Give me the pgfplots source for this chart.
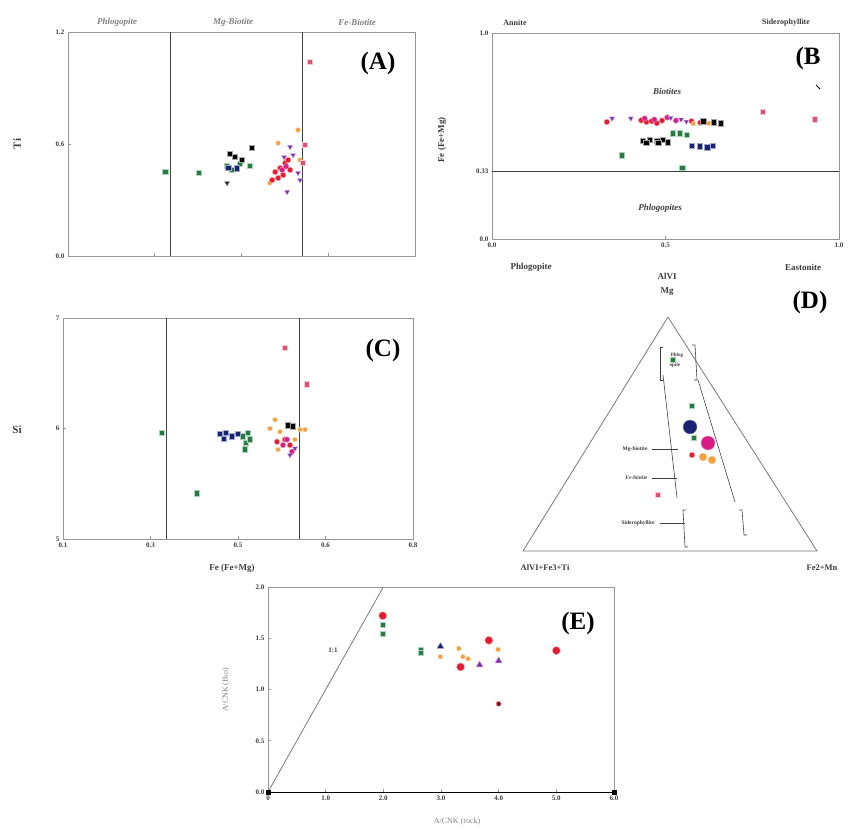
\documentclass[border=0pt]{standalone}
\usepackage{pgfplots}
\pgfplotsset{compat=1.18}
\usepackage{fontspec}
\setmainfont{Liberation Serif}

\definecolor{mgreen}{RGB}{35,125,65}
\definecolor{mnavy}{RGB}{25,35,115}
\definecolor{mred}{RGB}{228,28,48}
\definecolor{mmag}{RGB}{215,30,135}
\definecolor{mpurp}{RGB}{128,45,175}
\definecolor{morange}{RGB}{242,160,60}
\definecolor{mpink}{RGB}{225,80,110}
\definecolor{frm}{RGB}{150,150,150}
\definecolor{ink}{RGB}{60,60,60}

\pgfplotsset{
  panel/.style={scale only axis, anchor=south west, clip=false,
    axis line style={frm, line width=0.9pt},
    tick style={frm, line width=0.6pt}, tick align=inside, major tick length=3pt,
    xtick pos=bottom, ytick pos=left,
    ticklabel style={font=\fontsize{7}{7}\selectfont\bfseries, text=ink},
    /pgf/number format/assume math mode=true},
  gsq/.style={only marks, mark=square*, mark size=2.8pt, mark options={fill=mgreen, draw=mgreen!35, line width=0.9pt}},
  bsq/.style={only marks, mark=square*, mark size=2.8pt, mark options={fill=black, draw=black!35, line width=0.9pt}},
  nsq/.style={only marks, mark=square*, mark size=2.6pt, mark options={fill=mnavy, draw=mnavy!40}},
  btri/.style={only marks, mark=triangle*, mark size=3pt, mark options={rotate=180, fill=black!85, draw=black!40}},
  ptri/.style={only marks, mark=triangle*, mark size=3pt, mark options={rotate=180, fill=mpurp, draw=mpurp!40}},
  rcirc/.style={only marks, mark=*, mark size=2.8pt, mark options={fill=mred, draw=mred!40}},
  mcirc/.style={only marks, mark=*, mark size=2.8pt, mark options={fill=mmag, draw=mmag!40}},
  ocirc/.style={only marks, mark=*, mark size=2.4pt, mark options={fill=morange, draw=morange!40}},
  pksq/.style={only marks, mark=square*, mark size=2.8pt, mark options={fill=mpink, draw=mpink!30, line width=1pt}},
}

\begin{document}
\begin{tikzpicture}[x=1pt,y=1pt]
\path[use as bounding box] (0,0) rectangle (848,830);

% ---------------- (A) Ti vs Fe/(Fe+Mg) ----------------
\begin{axis}[panel, at={(68pt,574pt)}, width=347pt, height=224pt,
  xmin=0.1, xmax=0.8, ymin=0, ymax=1.2,
  xtick={0.275,0.45,0.625}, xticklabels={},
  ytick={0,0.6,1.2}, yticklabels={0.0,0.6,1.2}]
\addplot[darkgray, line width=0.8pt] coordinates {(0.307,0) (0.307,1.2)};
\addplot[darkgray, line width=0.8pt] coordinates {(0.572,0) (0.572,1.2)};
\addplot[gsq] coordinates {(0.296,0.45) (0.364,0.445) (0.421,0.482) (0.447,0.493) (0.467,0.482) (0.431,0.461)};
\addplot[nsq] coordinates {(0.423,0.471) (0.440,0.470)};
\addplot[bsq] coordinates {(0.427,0.546) (0.451,0.514) (0.471,0.579) (0.437,0.530)};
\addplot[btri] coordinates {(0.421,0.391)};
\addplot[ocirc] coordinates {(0.524,0.605) (0.564,0.675) (0.507,0.391) (0.568,0.514)};
\addplot[rcirc] coordinates {(0.518,0.45) (0.528,0.471) (0.538,0.498) (0.524,0.418) (0.548,0.461) (0.512,0.407) (0.534,0.434) (0.544,0.514)};
\addplot[mcirc] coordinates {(0.532,0.461) (0.540,0.480)};
\addplot[ptri] coordinates {(0.548,0.584) (0.542,0.343) (0.564,0.445) (0.554,0.541) (0.568,0.407) (0.536,0.530)};
\addplot[pksq] coordinates {(0.588,1.039) (0.578,0.595) (0.574,0.498)};
\end{axis}

% ---------------- (B) Fe/(Fe+Mg) vs AlVI ----------------
\begin{axis}[panel, at={(492pt,591pt)}, width=347pt, height=206pt,
  xmin=0, xmax=1, ymin=0, ymax=1,
  xtick={0,0.5,1}, xticklabels={0.0,0.5,1.0},
  ytick={0,0.33,1}, yticklabels={0.0,0.33,1.0}]
\addplot[darkgray, line width=0.8pt] coordinates {(0,0.33) (1,0.33)};
\addplot[gsq] coordinates {(0.375,0.407) (0.548,0.344) (0.522,0.512) (0.542,0.512) (0.562,0.505)};
\addplot[nsq] coordinates {(0.576,0.453) (0.599,0.450) (0.620,0.446) (0.637,0.453)};
\addplot[bsq] coordinates {(0.435,0.476) (0.455,0.480) (0.476,0.476) (0.493,0.480) (0.507,0.470) (0.445,0.466) (0.480,0.466)};
\addplot[rcirc] coordinates {(0.331,0.568) (0.430,0.576) (0.445,0.568) (0.460,0.572) (0.475,0.562) (0.490,0.575) (0.575,0.572) (0.600,0.565)};
\addplot[mcirc] coordinates {(0.440,0.585) (0.468,0.580) (0.505,0.590) (0.530,0.575)};
\addplot[ptri] coordinates {(0.346,0.585) (0.400,0.585) (0.515,0.588) (0.545,0.580) (0.560,0.570)};
\addplot[ocirc] coordinates {(0.580,0.560) (0.625,0.562)};
\addplot[bsq] coordinates {(0.610,0.570) (0.640,0.566) (0.660,0.560)};
\addplot[pksq] coordinates {(0.781,0.617) (0.931,0.581)};
\end{axis}

% ---------------- (C) Si vs Fe/(Fe+Mg) ----------------
\begin{axis}[panel, at={(63pt,291pt)}, width=350pt, height=221pt,
  xmin=0.1, xmax=0.8, ymin=5, ymax=7,
  xtick={0.1,0.275,0.45,0.625,0.8}, xticklabels={0.1,0.3,0.5,0.6,0.8},
  ytick={5,6,7}, yticklabels={5,6,7}]
\addplot[darkgray, line width=0.8pt] coordinates {(0.307,5) (0.307,7)};
\addplot[darkgray, line width=0.8pt] coordinates {(0.572,5) (0.572,7)};
\addplot[gsq] coordinates {(0.298,5.96) (0.368,5.41) (0.460,5.93) (0.470,5.96) (0.466,5.87) (0.474,5.90) (0.464,5.81)};
\addplot[nsq] coordinates {(0.414,5.95) (0.426,5.96) (0.438,5.93) (0.450,5.95) (0.422,5.91)};
\addplot[ocirc] coordinates {(0.514,6.00) (0.524,6.08) (0.534,5.97) (0.564,5.90) (0.574,5.99) (0.530,5.81) (0.584,5.99)};
\addplot[rcirc] coordinates {(0.544,5.90) (0.554,5.85) (0.528,5.88)};
\addplot[bsq] coordinates {(0.550,6.03) (0.560,6.02)};
\addplot[mcirc] coordinates {(0.540,5.85) (0.548,5.90) (0.558,5.79)};
\addplot[ptri] coordinates {(0.564,5.82) (0.554,5.76)};
\addplot[pksq] coordinates {(0.544,6.73) (0.588,6.40)};
\end{axis}

% ---------------- (D) ternary Mg - AlVI+Fe3+Ti - Fe2+Mn ----------------
\begin{axis}[scale only axis, anchor=south west, at={(0pt,0pt)}, width=848pt, height=830pt,
  xmin=0, xmax=848, ymin=0, ymax=830, hide axis, clip=false]
\addplot[frm!80!black, line width=0.8pt] coordinates {(668,513) (523,279) (817,279) (668,513)};
% field boundaries
\addplot[darkgray, line width=0.6pt] coordinates {(663,455) (677,332)};
\addplot[darkgray, line width=0.6pt] coordinates {(698,450) (735,328)};
\addplot[darkgray, line width=0.6pt] coordinates {(686,320) (683,320) (685,283) (688,283)};
\addplot[darkgray, line width=0.6pt] coordinates {(739,320) (742,320) (744,295) (747,295)};
\addplot[darkgray, line width=0.6pt] coordinates {(663,483) (660,483) (660,450) (663,450)};
\addplot[darkgray, line width=0.6pt] coordinates {(692,485) (695,485) (697,450) (694,450)};
\addplot[darkgray, line width=0.6pt] coordinates {(652,381) (678,381)};
\addplot[darkgray, line width=0.6pt] coordinates {(652,352) (677,352)};
\addplot[darkgray, line width=0.6pt] coordinates {(660,307) (685,307)};
% samples
\addplot[gsq] coordinates {(673,470) (692,424)};
\addplot[only marks, mark=*, mark size=7pt, mark options={fill=mnavy, draw=mnavy!50}] coordinates {(690,403)};
\addplot[gsq, mark size=2.2pt] coordinates {(694,392)};
\addplot[ocirc, mark size=4pt] coordinates {(703,373) (712,370)};
\addplot[only marks, mark=*, mark size=7pt, mark options={fill=mmag, draw=mmag!50}] coordinates {(708,387)};
\addplot[rcirc] coordinates {(692,375)};
\addplot[pksq] coordinates {(658,335)};
\end{axis}

% ---------------- (E) A/CNK biotite vs rock ----------------
\begin{axis}[panel, at={(268pt,38pt)}, width=346pt, height=205pt,
  xmin=0, xmax=6, ymin=0, ymax=2,
  xtick={0,1,2,3,4,5,6}, xticklabels={0,1.0,2.0,3.0,4.0,5.0,6.0},
  ytick={0,0.5,1,1.5,2}, yticklabels={0.0,0.5,1.0,1.5,2.0}]
\addplot[black, line width=0.9pt] coordinates {(0,0) (6,0)};
\addplot[frm!80!black, line width=0.8pt] coordinates {(0,0) (2,2)};
\addplot[only marks, mark=square*, mark size=1.8pt, black] coordinates {(0,0) (6,0)};
\addplot[rcirc, mark size=4pt] coordinates {(1.99,1.72) (3.34,1.22) (3.83,1.48) (5.0,1.38)};
\addplot[gsq, mark size=2.5pt] coordinates {(1.99,1.63) (1.99,1.545) (2.66,1.39) (2.66,1.36)};
\addplot[only marks, mark=triangle*, mark size=4pt, mark options={fill=mnavy, draw=mnavy!40}] coordinates {(2.99,1.42)};
\addplot[only marks, mark=triangle*, mark size=4pt, mark options={fill=mpurp, draw=mpurp!40}] coordinates {(3.67,1.24) (4.0,1.28)};
\addplot[ocirc] coordinates {(2.99,1.32) (3.31,1.40) (3.38,1.32) (3.47,1.30) (3.99,1.39)};
\addplot[only marks, mark=*, mark size=2.6pt, mark options={fill=mred!60!black, draw=mred!30}] coordinates {(4.0,0.86)};
\end{axis}

% ---------------- texts ----------------
\begin{scope}[font=\bfseries]
% (A)
\node[text=gray, font=\fontsize{9}{9}\selectfont\bfseries\itshape] at (117,808) {Phlogopite};
\node[text=gray, font=\fontsize{9}{9}\selectfont\bfseries\itshape] at (233,808) {Mg-Biotite};
\node[text=gray, font=\fontsize{9}{9}\selectfont\bfseries\itshape] at (357,808) {Fe-Biotite};
\node[rotate=90, font=\fontsize{11}{11}\selectfont\bfseries, text=ink] at (17,686) {Ti};
\node[font=\fontsize{25}{25}\selectfont\bfseries] at (378,767) {(A)};
% (B)
\node[font=\fontsize{8}{8}\selectfont\bfseries, text=ink] at (515,807) {Annite};
\node[font=\fontsize{8}{8}\selectfont\bfseries, text=ink] at (786,807) {Siderophyllite};
\node[font=\fontsize{25}{25}\selectfont\bfseries] at (808,772) {(B};
\draw[line width=0.8pt] (816,745) -- (820,741);
\node[font=\fontsize{9}{9}\selectfont\bfseries\itshape, text=ink] at (667,739) {Biotites};
\node[font=\fontsize{9}{9}\selectfont\bfseries\itshape, text=ink] at (660,622) {Phlogopites};
\node[rotate=90, font=\fontsize{9}{9}\selectfont\bfseries, text=ink] at (442,690) {Fe (Fe+Mg)};
\node[font=\fontsize{9}{9}\selectfont\bfseries, text=ink] at (531,563) {Phlogopite};
\node[font=\fontsize{9}{9}\selectfont\bfseries, text=ink] at (803,563) {Eastonite};
\node[font=\fontsize{9}{9}\selectfont\bfseries, text=ink] at (667,554) {AlVI};
% (C)
\node[font=\fontsize{11}{11}\selectfont\bfseries, text=ink] at (17,400) {Si};
\node[font=\fontsize{25}{25}\selectfont\bfseries] at (383,480) {(C)};
\node[font=\fontsize{9}{9}\selectfont\bfseries, text=ink] at (232,262) {Fe (Fe+Mg)};
% (D)
\node[font=\fontsize{9}{9}\selectfont\bfseries, text=ink] at (667,538) {Mg};
\node[font=\fontsize{25}{25}\selectfont\bfseries] at (810,528) {(D)};
\node[font=\fontsize{8.5}{8.5}\selectfont\bfseries, text=ink] at (545,262) {AlVI+Fe3+Ti};
\node[font=\fontsize{8.5}{8.5}\selectfont\bfseries, text=ink] at (822,262) {Fe2+Mn};
\node[anchor=east, font=\fontsize{5.5}{5.5}\selectfont\bfseries, text=ink] at (651,381) {Mg-biotite};
\node[anchor=east, font=\fontsize{5.5}{5.5}\selectfont\bfseries\itshape, text=ink] at (651,352) {Fe-biotite};
\node[anchor=east, font=\fontsize{5.5}{5.5}\selectfont\bfseries, text=ink] at (658,307) {Siderophyllite};
\node[font=\fontsize{5}{5}\selectfont\bfseries, text=ink] at (677,475) {Phlog};
\node[font=\fontsize{5}{5}\selectfont\bfseries, text=ink] at (675,465) {opite};
% (E)
\node[font=\fontsize{25}{25}\selectfont\bfseries] at (578,207) {(E)};
\node[font=\fontsize{7}{7}\selectfont\bfseries, text=ink] at (333,180) {1:1};
\node[rotate=90, font=\fontsize{8}{8}\selectfont, text=gray] at (226,140) {A/CNK (Bio)};
\node[font=\fontsize{8}{8}\selectfont, text=gray] at (457,8) {A/CNK (rock)};
\end{scope}
\end{tikzpicture}
\end{document}
